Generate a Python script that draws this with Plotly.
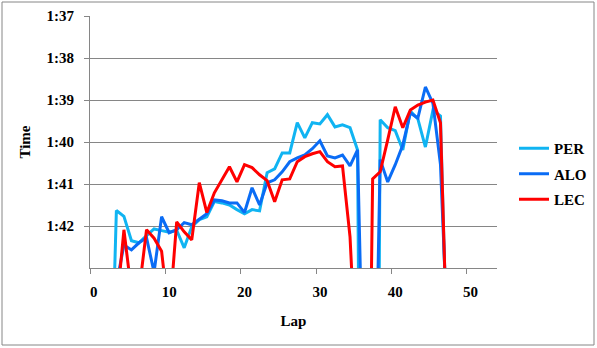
import plotly.graph_objects as go

# ---- data (lap times in seconds) ----
laps = list(range(1, 48))
categories = [str(i) for i in range(54)]

per_times = [110, 108, 101.63, 101.77, 102.35, 102.40, 102.23, 102.07, 102.11, 102.15,
             102.10, 102.52, 102.02, 101.85, 101.78, 101.42, 101.45, 101.50, 101.61, 101.71,
             101.61, 101.64, 100.73, 100.64, 100.26, 100.26, 99.54, 99.90, 99.54, 99.57,
             99.35, 99.64, 99.59, 99.66, 100.19, 125, 130, 99.47, 99.66, 99.73,
             100.19, 99.26, 99.45, 100.12, 99.24, 99.38, 106]
alo_times = [106, 105, 103.4, 102.45, 102.57, 102.40, 102.28, 103.1, 101.78, 102.16,
             102.09, 101.92, 101.97, 101.85, 101.71, 101.38, 101.40, 101.45, 101.45, 101.68,
             101.09, 101.50, 100.97, 100.90, 100.71, 100.47, 100.38, 100.31, 100.16, 99.97,
             100.33, 100.38, 100.31, 100.57, 100.19, 108, 109.7, 100.42, 100.95, 100.54,
             100.07, 99.31, 99.43, 98.69, 99.08, 100.54, 104.9]
lec_times = [107, 105.5, 104, 102.09, 103.57, 103.57, 102.09, 102.29, 102.6, 104.2,
             101.90, 102.14, 102.33, 100.97, 101.68, 101.21, 100.90, 100.59, 100.95, 100.54,
             100.61, 100.78, 100.92, 101.42, 100.90, 100.88, 100.47, 100.35, 100.28, 100.23,
             100.47, 100.59, 100.57, 102.26, 105.9, 115, 100.88, 100.71, 99.95, 99.16,
             99.66, 99.24, 99.12, 99.05, 99.0, 99.54, 105.7]

series_names = ["PER", "ALO", "LEC"]
y_tickvals = [97, 98, 99, 100, 101, 102]
y_ticktext = ["1:37", "1:38", "1:39", "1:40", "1:41", "1:42"]

colors = ["#10B4F2", "#0A6CF5", "#FF0000"]
FONT = "Liberation Serif"

fig = go.Figure()
for name, vals, col in zip(series_names, [per_times, alo_times, lec_times], colors):
    fig.add_trace(go.Scatter(
        x=[str(l) for l in laps], y=vals, mode="lines", name=name,
        legendgroup=name,
        line=dict(color=col, width=3),
    ))

W, H = 597, 348
ml, mr, mt, mb = 90, 100, 16, 80
pw, ph = W - ml - mr, H - mt - mb

def px_x(p):
    return (p - ml) / pw

def px_y(p):
    return (H - mb - p) / ph

fig.update_layout(
    width=W, height=H,
    margin=dict(l=ml, r=mr, t=mt, b=mb, autoexpand=False),
    paper_bgcolor="white", plot_bgcolor="white",
    font=dict(family=FONT, size=15, color="black"),
    showlegend=True,
    legend=dict(x=px_x(514), y=px_y(174), xanchor="left", yanchor="middle",
                font=dict(family=FONT, size=15, color="black", weight="bold"),
                tracegroupgap=3, itemwidth=30, bgcolor="rgba(0,0,0,0)"),
    xaxis=dict(
        type="category", categoryorder="array", categoryarray=categories,
        range=[-0.5, 53.5], tickmode="linear", tick0=0, dtick=10,
        tickson="boundaries", ticks="outside", ticklen=5, tickcolor="#868686",
        tickangle=0, ticklabelstandoff=10,
        showline=True, linecolor="#868686", linewidth=1, showgrid=False,
        tickfont=dict(family=FONT, size=15, weight="bold"),
        title=dict(text="Lap", font=dict(family=FONT, size=15, weight="bold"), standoff=16),
        zeroline=False,
    ),
    yaxis=dict(
        range=[103, 97], tickvals=y_tickvals, ticktext=y_ticktext,
        ticks="outside", ticklen=5, tickcolor="#868686",
        showline=True, linecolor="#868686", linewidth=1,
        showgrid=True, gridcolor="#868686", gridwidth=1,
        tickfont=dict(family=FONT, size=15, weight="bold"),
        ticklabelstandoff=7,
        title=dict(text="Time", font=dict(family=FONT, size=15, weight="bold"), standoff=12),
        zeroline=False,
    ),
    shapes=[dict(type="rect", xref="paper", yref="paper",
                 x0=px_x(2), x1=px_x(594), y0=px_y(345), y1=px_y(2),
                 line=dict(color="#868686", width=1), fillcolor="rgba(0,0,0,0)",
                 layer="below")],
)

fig.write_html("out.html")
